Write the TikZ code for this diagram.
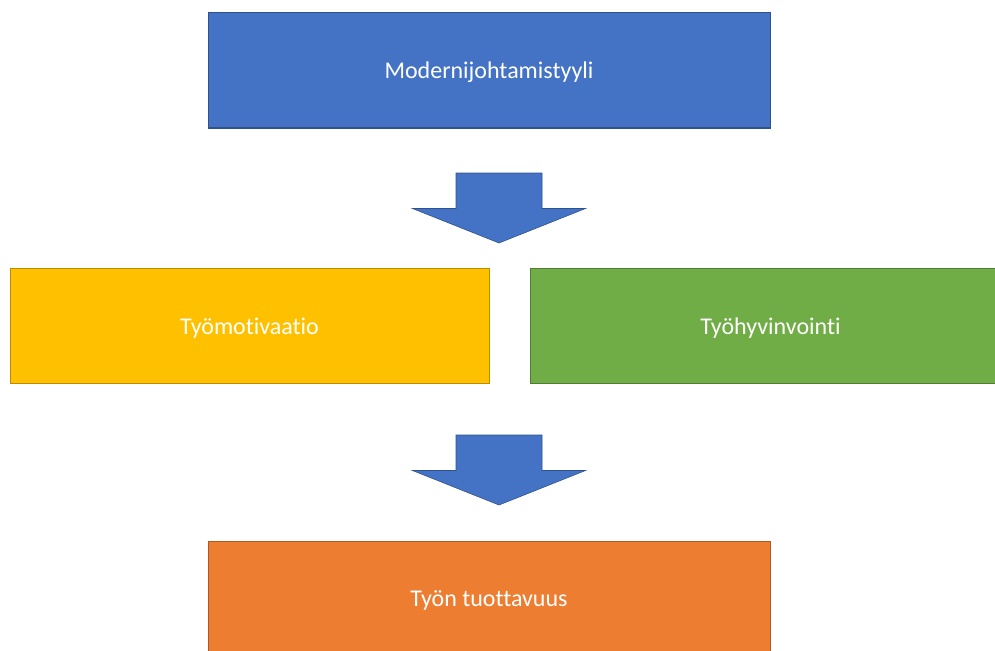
\documentclass[tikz,border=0pt]{standalone}
\usepackage{fontspec}
\setmainfont{Carlito}[Ligatures=NoCommon]
\definecolor{cblue}{HTML}{4472C4}
\definecolor{cblueb}{HTML}{2F528F}
\definecolor{cyel}{HTML}{FFC000}
\definecolor{cyelb}{HTML}{BC8C00}
\definecolor{cgreen}{HTML}{70AD47}
\definecolor{cgreenb}{HTML}{507E32}
\definecolor{corange}{HTML}{ED7D31}
\definecolor{coranb}{HTML}{AE5A21}
\newcommand{\lowtxt}[1]{\raisebox{-2pt}[\height][\depth]{#1}}
\begin{document}
\begin{tikzpicture}[x=1pt,y=-1pt,
  blockbox/.style={rectangle, line width=1pt, text=white, font=\fontsize{24}{28}\selectfont, inner sep=0pt},
  downarrow/.style={fill=cblue, draw=cblueb, line width=0.6pt, line join=miter}]
\useasboundingbox (0,0) rectangle (995,650);
\clip (0,0) rectangle (995,650);
\node[blockbox, fill=cblue, draw=cblueb, minimum width=562pt, minimum height=115pt] (top) at (489,70.5) {\lowtxt{Modernijohtamistyyli}};
\node[blockbox, fill=cyel, draw=cyelb, minimum width=479pt, minimum height=115pt] (left) at (249.5,325.8) {\lowtxt{Työmotivaatio}};
\node[blockbox, fill=cgreen, draw=cgreenb, minimum width=480pt, minimum height=115pt] (right) at (770.5,325.8) {\lowtxt{Työhyvinvointi}};
\node[blockbox, fill=corange, draw=coranb, minimum width=562pt, minimum height=115pt] (bottom) at (489,598.5) {\lowtxt{Työn tuottavuus}};
\coordinate (a1) at (499,173);
\coordinate (a2) at (499,435);
\foreach \c in {a1,a2}{
  \draw[downarrow] ([xshift=-43pt]\c) -- ([xshift=43pt]\c) -- ([xshift=43pt,yshift=-35.5pt]\c) -- ([xshift=86.5pt,yshift=-35.5pt]\c) -- ([yshift=-70pt]\c) -- ([xshift=-86.5pt,yshift=-35.5pt]\c) -- ([xshift=-43pt,yshift=-35.5pt]\c) -- cycle;
}
\end{tikzpicture}
\end{document}
